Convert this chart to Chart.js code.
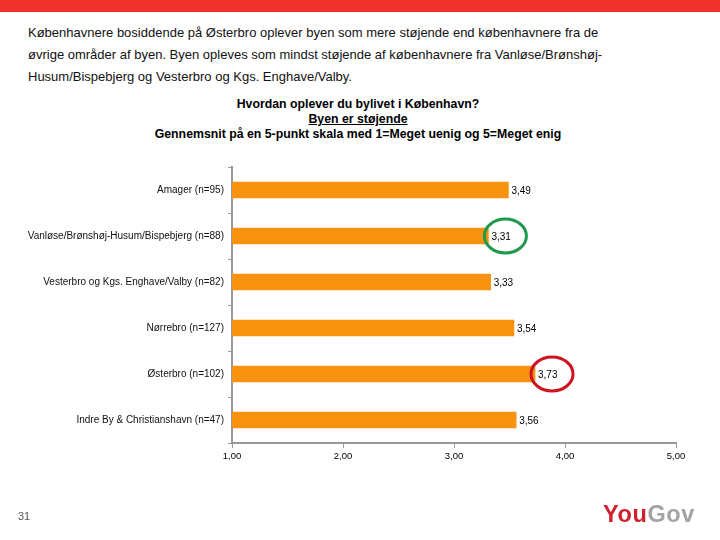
<!DOCTYPE html>
<html>
<head>
<meta charset="utf-8">
<script src="https://cdn.jsdelivr.net/npm/chart.js@4"></script>
<style>
  body { margin: 0; width: 720px; height: 540px; position: relative; background: #fff; overflow: hidden; }
  #topbar { position: absolute; left: 0; top: 0; width: 720px; height: 12px; background: #f0302a; }
  #intro { position: absolute; left: 28px; top: 22px; font-family: "Liberation Sans", sans-serif; font-size: 13px; line-height: 22px; color: #111; white-space: nowrap; }
  #ctitle { position: absolute; left: 0; width: 716px; top: 97px; text-align: center; font-family: "Liberation Sans", Arial, sans-serif; font-weight: bold; font-size: 12.3px; line-height: 14.8px; color: #000; }
  #ctitle u { text-decoration: underline; }
  #wrap { position: absolute; left: 0; top: 0; width: 720px; height: 540px; }
  #pageno { position: absolute; left: 18px; top: 510px; font-family: "Liberation Sans", sans-serif; font-size: 11px; color: #555; }
  #logo { position: absolute; left: 603px; top: 501px; font-family: "Liberation Sans", Arial, sans-serif; font-weight: bold; font-size: 23.5px; letter-spacing: 0.6px; }
  #logo .you { color: #d0202e; }
  #logo .gov { color: #a3a3a3; }
</style>
</head>
<body>
<div id="topbar"></div>
<div id="intro">
  Københavnere bosiddende på Østerbro oplever byen som mere støjende end københavnere fra de<br>
  øvrige områder af byen. Byen opleves som mindst støjende af københavnere fra Vanløse/Brønshøj-<br>
  Husum/Bispebjerg og Vesterbro og Kgs. Enghave/Valby.
</div>
<div id="ctitle">
  Hvordan oplever du bylivet i København?<br>
  <u>Byen er støjende</u><br>
  Gennemsnit på en 5-punkt skala med 1=Meget uenig og 5=Meget enig
</div>
<div id="wrap"><canvas id="chart" width="720" height="540"></canvas></div>
<div id="pageno">31</div>
<div id="logo"><span class="you">You</span><span class="gov">Gov</span></div>

<script>
// data
const labels = [
  "Amager (n=95)",
  "Vanløse/Brønshøj-Husum/Bispebjerg (n=88)",
  "Vesterbro og Kgs. Enghave/Valby (n=82)",
  "Nørrebro (n=127)",
  "Østerbro (n=102)",
  "Indre By & Christianshavn (n=47)",
];
const values = [3.49, 3.31, 3.33, 3.54, 3.73, 3.56];
const xTicks = [1, 2, 3, 4, 5];
// which bars get a circle round their label
const circled = [
  { index: 1, color: "#1f9a4c" },
  { index: 4, color: "#cf1420" },
];

const fmt = (v, d) => v.toFixed(d).replace(".", ",");

// value labels at the end of the bars
const valueLabels = {
  id: "valueLabels",
  afterDatasetsDraw(chart) {
    const ctx = chart.ctx;
    const meta = chart.getDatasetMeta(0);
    ctx.save();
    ctx.font = "10px 'Liberation Sans', Arial, sans-serif";
    ctx.fillStyle = "#000";
    ctx.textBaseline = "middle";
    ctx.textAlign = "left";
    meta.data.forEach((bar, i) => {
      ctx.fillText(fmt(values[i], 2), bar.x + 3, bar.y + 1);
    });
    ctx.restore();
  },
};

// the hand-drawn circles
const rings = {
  id: "rings",
  afterDatasetsDraw(chart) {
    const ctx = chart.ctx;
    const meta = chart.getDatasetMeta(0);
    ctx.save();
    ctx.lineWidth = 3;
    circled.forEach((c) => {
      const bar = meta.data[c.index];
      ctx.strokeStyle = c.color;
      ctx.beginPath();
      ctx.ellipse(bar.x + 17, bar.y, 21, 17, 0, 0, Math.PI * 2);
      ctx.stroke();
    });
    ctx.restore();
  },
};

new Chart(document.getElementById("chart"), {
  type: "bar",
  data: {
    labels,
    datasets: [
      {
        data: values,
        backgroundColor: "#f7930e",
        barThickness: 16,
      },
    ],
  },
  options: {
    indexAxis: "y",
    responsive: false,
    animation: false,
    layout: { padding: { top: 167, right: 44, left: 0, bottom: 0 } },
    plugins: { legend: { display: false }, tooltip: { enabled: false } },
    scales: {
      x: {
        min: 1,
        max: 5,
        afterBuildTicks: (s) => { s.ticks = xTicks.map((v) => ({ value: v })); },
        afterFit: (s) => { s.height = 97; },
        grid: { drawOnChartArea: false, tickLength: 5, color: "#999" },
        border: { color: "#999", width: 2 },
        ticks: {
          color: "#000",
          padding: 3,
          font: { family: "'Liberation Sans', Arial, sans-serif", size: 9.5 },
          callback: (v) => fmt(v, 2),
        },
      },
      y: {
        afterFit: (s) => { s.width = 232; },
        grid: { drawOnChartArea: false, tickLength: 4, color: "#999", offset: true },
        border: { color: "#999", width: 2 },
        ticks: {
          color: "#111",
          padding: 4,
          font: { family: "'Liberation Sans', Arial, sans-serif", size: 10 },
        },
      },
    },
  },
  plugins: [valueLabels, rings],
});
</script>
</body>
</html>
